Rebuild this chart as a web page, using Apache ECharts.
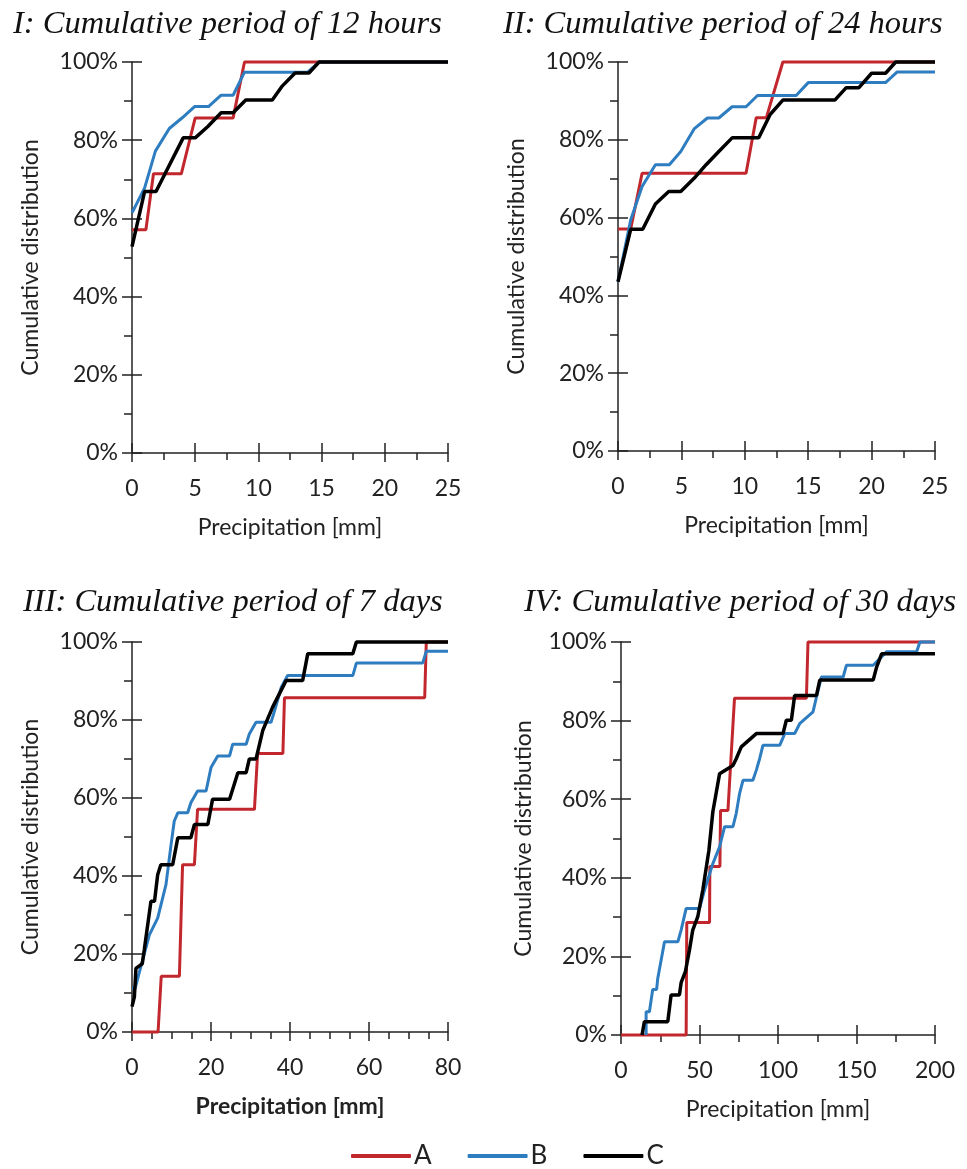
<!DOCTYPE html>
<html>
<head>
<meta charset="utf-8">
<title>Cumulative distribution of precipitation</title>
<script src="https://cdn.jsdelivr.net/npm/echarts@6/dist/echarts.min.js"></script>
<style>
  html, body { margin: 0; padding: 0; background: #fff; }
  #chart { width: 967px; height: 1169px; }
</style>
</head>
<body>
<div id="chart"></div>
<script>
// series names and panel titles
const seriesNames = ['A', 'B', 'C'];
const seriesColors = ['#c1272d', '#2e7dc0', '#000000'];
const panelTitles = [
  'I: Cumulative period of 12 hours',
  'II: Cumulative period of 24 hours',
  'III: Cumulative period of 7 days',
  'IV: Cumulative period of 30 days'
];
// x axis ranges per panel
const xMax = [25, 25, 80, 200];
const xStep = [5, 5, 20, 50];
const xMinorSplit = [2, 2, 4, 2];

// [precipitation mm, cumulative %]
const p1A = [[0, 57.1], [1.1, 57.1], [1.7, 71.4], [3.9, 71.4], [5.0, 85.7], [8.0, 85.7], [8.9, 100], [25, 100]];
const p1B = [[0, 61.4], [1.0, 67.8], [1.85, 77.2], [2.95, 83.0], [4.0, 85.8], [4.95, 88.6], [6.05, 88.6], [7.05, 91.5],
  [8.0, 91.5], [8.9, 97.4], [13.9, 97.4], [14.8, 100], [25, 100]];
const p1C = [[0, 52.8], [1.0, 66.9], [1.9, 66.9], [4.05, 80.6], [5.0, 80.6], [6.0, 83.5], [7.05, 87.0], [8.0, 87.0],
  [9.0, 90.3], [11.1, 90.3], [11.9, 93.9], [12.9, 97.2], [14.0, 97.2], [14.8, 100], [25, 100]];

const p2A = [[0, 57.1], [1.0, 57.1], [1.9, 71.4], [10.1, 71.4], [10.9, 85.7], [11.7, 85.7], [13.0, 100], [25, 100]];
const p2B = [[0, 43.5], [1.0, 59.4], [1.9, 68.0], [2.95, 73.6], [4.05, 73.6], [4.95, 77.0], [6.0, 82.8], [7.05, 85.6],
  [7.95, 85.6], [9.0, 88.5], [10.1, 88.5], [11.0, 91.4], [14.05, 91.4], [15.0, 94.7], [21.1, 94.7], [22.0, 97.4], [25, 97.4]];
const p2C = [[0, 43.5], [1.0, 57.0], [1.95, 57.0], [2.95, 63.5], [4.0, 66.7], [4.95, 66.7], [6.0, 70.1], [6.95, 73.6],
  [7.95, 77.0], [9.0, 80.5], [11.1, 80.5], [12.0, 86.5], [13.0, 90.2], [17.1, 90.2], [18.0, 93.4], [19.0, 93.4],
  [20.0, 97.1], [21.1, 97.1], [21.9, 100], [25, 100]];

const p3A = [[0, 0], [6.6, 0], [7.4, 14.3], [12.0, 14.3], [12.8, 42.9], [15.8, 42.9], [16.6, 57.1], [31.0, 57.1],
  [31.8, 71.4], [38.2, 71.4], [38.6, 85.7], [74.1, 85.7], [74.5, 100], [80, 100]];
const p3B = [[0, 11.2], [0.8, 11.2], [1.9, 15.5], [4.4, 24.9], [6.5, 29.2], [8.6, 37.8], [9.9, 48.1], [10.7, 54.1],
  [11.6, 56.2], [14.1, 56.2], [14.9, 58.8], [16.6, 61.8], [18.75, 61.8], [20.0, 67.8], [21.7, 70.8], [24.7, 70.8],
  [25.5, 73.8], [28.9, 73.8], [29.7, 76.4], [31.4, 79.4], [35.2, 79.4], [36.1, 82.4], [37.8, 88.4], [39.4, 91.4],
  [55.9, 91.4], [56.8, 94.6], [73.6, 94.6], [74.5, 97.6], [80, 97.6]];
const p3C = [[0, 6.5], [0.6, 9.0], [1.0, 16.3], [2.6, 17.5], [3.1, 21.0], [4.8, 33.5], [5.7, 33.5], [6.5, 40.3],
  [7.3, 42.9], [10.3, 42.9], [11.6, 49.8], [14.9, 49.8], [15.8, 53.2], [19.2, 53.2], [20.4, 59.7], [24.7, 59.7],
  [26.8, 66.5], [28.9, 66.5], [29.7, 70.0], [31.4, 70.0], [33.1, 77.3], [35.6, 83.3], [37.3, 86.7], [39.0, 90.1],
  [43.2, 90.1], [44.5, 97.0], [55.9, 97.0], [56.8, 100], [80, 100]];

const p4A = [[0, 0], [41.5, 0], [41.9, 28.6], [56.4, 28.6], [56.6, 42.9], [63.0, 42.9], [63.4, 57.1], [68.1, 57.1],
  [70.2, 71.4], [72.3, 85.7], [118.1, 85.7], [119.1, 100], [200, 100]];
const p4B = [[16.0, 0], [16.0, 5.9], [18.1, 5.9], [20.2, 11.6], [22.7, 11.6], [23.4, 14.4], [27.7, 23.7], [36.2, 23.7],
  [38.3, 26.7], [41.5, 32.2], [50.0, 32.2], [53.2, 36.9], [58.5, 43.6], [62.8, 47.9], [66.0, 53.0], [71.3, 53.0],
  [73.4, 56.4], [75.5, 61.4], [77.7, 64.8], [84.0, 64.8], [86.2, 67.4], [88.3, 70.3], [90.4, 73.7], [101.1, 73.7],
  [104.3, 76.7], [110.6, 76.7], [113.8, 79.2], [122.3, 82.2], [124.5, 86.0], [127.7, 91.1], [141.5, 91.1],
  [143.6, 94.1], [160.6, 94.1], [169.1, 97.5], [188.3, 97.5], [190.4, 100], [200, 100]];
const p4C = [[13.4, 0], [14.9, 3.4], [29.8, 3.4], [31.9, 10.2], [37.2, 10.2], [38.3, 13.3], [41.0, 16.1], [43.6, 21.6],
  [45.7, 26.7], [48.9, 30.1], [52.1, 36.9], [56.0, 47.0], [58.5, 56.8], [62.8, 66.5], [71.3, 68.6], [73.4, 70.3],
  [76.6, 73.3], [86.2, 76.7], [103.2, 76.7], [105.3, 80.1], [108.5, 80.1], [110.6, 86.4], [124.5, 86.4],
  [126.6, 90.3], [160.6, 90.3], [162.8, 93.6], [166.0, 97.0], [200, 97.0]];

const panelData = [[p1A, p1B, p1C], [p2A, p2B, p2C], [p3A, p3B, p3C], [p4A, p4B, p4C]];

// layout (pixels)
const grids = [
  { left: 132, top: 62, width: 316, height: 391 },
  { left: 618, top: 62, width: 317, height: 389 },
  { left: 132, top: 642, width: 316, height: 390 },
  { left: 621, top: 642, width: 314, height: 393 }
];
const titlePos = [{ left: 8, top: 3 }, { left: 498, top: 3 }, { left: 18, top: 581 }, { left: 519, top: 581 }];
const yNameGap = [90, 90, 90, 86];

const sansFont = 'Lato';
const chart = echarts.init(document.getElementById('chart'));

const xAxes = [];
const yAxes = [];
const series = [];

panelData.forEach((lines, i) => {
  // main axes: line, labels, outside ticks and minor ticks
  xAxes.push({
    type: 'value', gridIndex: i, position: 'bottom',
    min: 0, max: xMax[i], interval: xStep[i],
    name: 'Precipitation [mm]', nameLocation: 'middle', nameGap: 63,
    nameTextStyle: { fontFamily: sansFont, fontSize: 23, color: '#222', fontWeight: i === 2 ? 'bold' : 'normal' },
    axisLine: { onZero: false, lineStyle: { color: '#222', width: 1.5 } },
    axisTick: { inside: false, length: 9, lineStyle: { color: '#222', width: 1.5 } },
    minorTick: { show: true, splitNumber: xMinorSplit[i], length: 7, lineStyle: { color: '#222', width: 1.5 } },
    axisLabel: { margin: 24, fontFamily: sansFont, fontSize: 23, color: '#222' },
    splitLine: { show: false }
  });
  // overlay axis so the major ticks cross the line
  xAxes.push({
    type: 'value', gridIndex: i, position: 'bottom',
    min: 0, max: xMax[i], interval: xStep[i],
    axisLine: { show: false, onZero: false },
    axisTick: { inside: true, length: 10, lineStyle: { color: '#222', width: 1.5 } },
    axisLabel: { show: false },
    splitLine: { show: false }
  });
  yAxes.push({
    type: 'value', gridIndex: i, position: 'left',
    min: 0, max: 100, interval: 20,
    name: 'Cumulative distribution', nameLocation: 'middle', nameGap: yNameGap[i],
    nameTextStyle: { fontFamily: sansFont, fontSize: 23, color: '#222' },
    axisLine: { onZero: false, lineStyle: { color: '#222', width: 1.5 } },
    axisTick: { inside: false, length: 10, lineStyle: { color: '#222', width: 1.5 } },
    minorTick: { show: true, splitNumber: 2, length: 8, lineStyle: { color: '#222', width: 1.5 } },
    axisLabel: { margin: 14, fontFamily: sansFont, fontSize: 23, color: '#222', formatter: '{value}%' },
    splitLine: { show: false }
  });
  yAxes.push({
    type: 'value', gridIndex: i, position: 'left',
    min: 0, max: 100, interval: 20,
    axisLine: { show: false, onZero: false },
    axisTick: { inside: true, length: 10, lineStyle: { color: '#222', width: 1.5 } },
    axisLabel: { show: false },
    splitLine: { show: false }
  });

  lines.forEach((pts, k) => {
    series.push({
      name: seriesNames[k],
      type: 'line',
      xAxisIndex: 2 * i,
      yAxisIndex: 2 * i,
      data: pts,
      symbol: 'none',
      clip: false,
      color: seriesColors[k],
      lineStyle: { width: k === 2 ? 3.5 : 3, color: seriesColors[k] },
      z: 3 + k
    });
  });
});

const option = {
  backgroundColor: '#fff',
  animation: false,
  title: panelTitles.map((t, i) => ({
    text: t,
    left: titlePos[i].left,
    top: titlePos[i].top,
    textStyle: { fontFamily: 'Liberation Serif', fontStyle: 'italic', fontWeight: 'normal', fontSize: 32.5, color: '#111' }
  })),
  legend: {
    data: seriesNames,
    left: 346,
    top: 1138,
    icon: 'roundRect',
    itemWidth: 60,
    itemHeight: 4,
    itemGap: 36,
    textStyle: { fontFamily: sansFont, fontSize: 26, color: '#222', padding: [0, 0, 0, -2] }
  },
  grid: grids,
  xAxis: xAxes,
  yAxis: yAxes,
  series: series
};

chart.setOption(option);
</script>
</body>
</html>
